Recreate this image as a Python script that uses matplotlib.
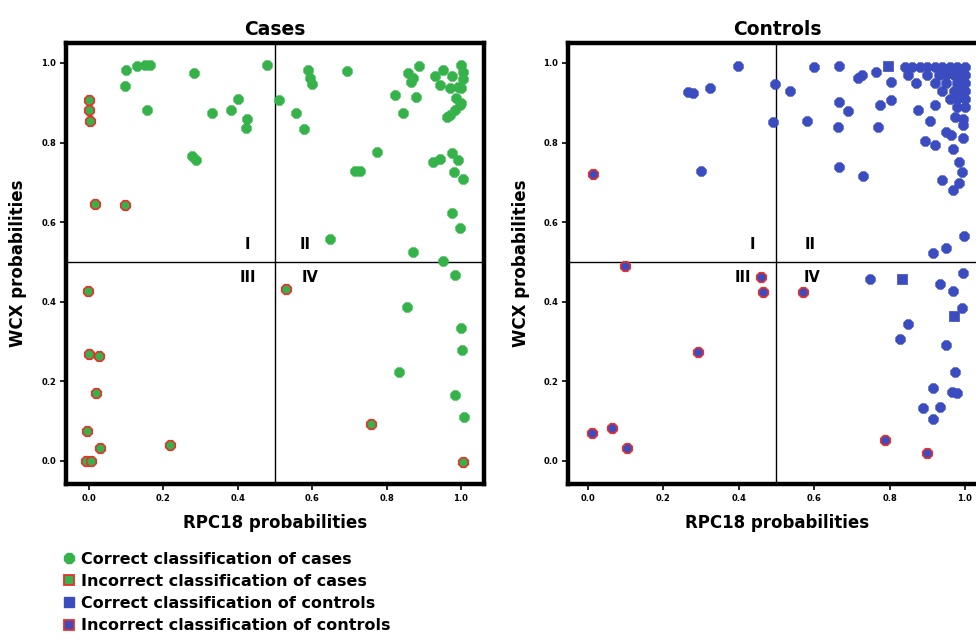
import matplotlib
matplotlib.use("Agg")
import matplotlib.pyplot as plt
from matplotlib.lines import Line2D

plt.rcParams['font.family'] = ['DejaVu Sans']
plt.rcParams['font.weight'] = 'bold'

# ---- data ----
# Cases panel: correct (green) and incorrect (green with red edge)
cases_ok_x = [0.099, 0.13, 0.15, 0.165, 0.098, 0.282, 0.478, 0.156, 0.331, 0.383, 0.40, 0.426, 0.422,
              0.276, 0.287, 0.51, 0.588, 0.594, 0.599, 0.693, 0.556, 0.579, 0.822, 0.845, 0.878, 0.857,
              0.887, 0.867, 0.872, 0.93, 0.952, 1.0, 1.006, 0.975, 1.006, 0.944, 0.97, 0.993, 1.0, 0.988,
              0.997, 0.984, 0.97, 0.962, 1.0, 0.773, 0.716, 0.728, 0.926, 0.944, 0.975, 0.993, 0.982,
              1.006, 0.977, 0.997, 0.649, 0.872, 0.952, 0.985, 0.856, 1.0, 1.003, 0.833, 0.984, 1.008]
cases_ok_y = [0.981, 0.993, 0.996, 0.996, 0.942, 0.975, 0.994, 0.881, 0.874, 0.882, 0.909, 0.859, 0.836,
              0.767, 0.756, 0.907, 0.981, 0.962, 0.948, 0.98, 0.874, 0.833, 0.92, 0.875, 0.914, 0.974,
              0.993, 0.953, 0.962, 0.966, 0.982, 0.995, 0.978, 0.966, 0.96, 0.945, 0.936, 0.94, 0.936, 0.911,
              0.894, 0.882, 0.869, 0.865, 0.90, 0.777, 0.729, 0.729, 0.752, 0.759, 0.773, 0.756, 0.727,
              0.709, 0.624, 0.585, 0.558, 0.524, 0.503, 0.466, 0.388, 0.335, 0.279, 0.223, 0.166, 0.111]
cases_bad_x = [0.001, 0.0, 0.003, 0.017, 0.098, -0.002, 0.0, 0.028, 0.019, -0.006, 0.03, 0.218,
               -0.008, 0.005, 0.53, 0.758, 1.006]
cases_bad_y = [0.907, 0.882, 0.853, 0.646, 0.642, 0.428, 0.268, 0.263, 0.17, 0.074, 0.032, 0.04,
               0.0, 0.0, 0.432, 0.094, -0.003]

# Controls panel: correct (blue) and incorrect (blue with red edge)
ctrl_ok_x = [0.399, 0.266, 0.279, 0.324, 0.496, 0.492, 0.301, 0.536, 0.60, 0.667, 0.717, 0.726, 0.765,
             0.803, 0.667, 0.69, 0.775, 0.803, 0.582, 0.662, 0.77, 0.667, 0.729,
             0.84, 0.86, 0.88, 0.90, 0.92, 0.94, 0.96, 0.98, 1.0,
             0.85, 0.90, 0.93, 0.95, 0.97, 0.99, 1.0,
             0.87, 0.92, 0.95, 0.98, 1.0, 0.94, 0.97, 0.99, 1.0, 0.96, 0.98, 1.0, 0.98, 1.0,
             0.876, 0.907, 0.92, 0.894, 0.92, 0.951, 0.964, 0.967, 0.996, 0.996, 0.996, 0.973,
             0.984, 0.991, 0.984, 0.967, 0.94, 0.998, 0.95, 0.916,
             0.748, 0.996, 0.935, 0.967, 0.991, 0.85, 0.828, 0.95, 0.973, 0.916, 0.965, 0.98,
             0.888, 0.935, 0.916]
ctrl_ok_y = [0.991, 0.928, 0.924, 0.936, 0.946, 0.851, 0.729, 0.93, 0.989, 0.992, 0.962, 0.97, 0.978,
             0.953, 0.901, 0.879, 0.894, 0.907, 0.855, 0.84, 0.84, 0.739, 0.717,
             0.99, 0.99, 0.99, 0.99, 0.99, 0.99, 0.99, 0.99, 0.99,
             0.97, 0.97, 0.97, 0.97, 0.97, 0.97, 0.97,
             0.95, 0.95, 0.95, 0.95, 0.95, 0.93, 0.93, 0.93, 0.93, 0.91, 0.91, 0.91, 0.89, 0.89,
             0.882, 0.854, 0.894, 0.804, 0.794, 0.827, 0.819, 0.784, 0.811, 0.86, 0.845, 0.865,
             0.752, 0.727, 0.698, 0.681, 0.706, 0.565, 0.534, 0.523,
             0.457, 0.472, 0.444, 0.428, 0.384, 0.345, 0.306, 0.291, 0.223, 0.183, 0.173, 0.17,
             0.132, 0.136, 0.106]
ctrl_sq_x = [0.795, 0.834, 0.97]
ctrl_sq_y = [0.992, 0.457, 0.364]
ctrl_bad_x = [0.012, 0.098, 0.458, 0.465, 0.291, 0.01, 0.063, 0.104, 0.571, 0.789, 0.90]
ctrl_bad_y = [0.722, 0.49, 0.463, 0.424, 0.273, 0.07, 0.084, 0.033, 0.424, 0.053, 0.019]

ticks = [0.0, 0.2, 0.4, 0.6, 0.8, 1.0]
tick_labels = ['0.0', '0.2', '0.4', '0.6', '0.8', '1.0']

GREEN = '#35b34a'
BLUE = '#3a4cc0'
RED = '#e8302c'
MS = 55


def setup_axes(ax, title, xlim, quad_pos):
    ax.set_xlim(*xlim)
    ax.set_ylim(-0.058, 1.05)
    for s in ax.spines.values():
        s.set_linewidth(3.2)
    ax.axvline(0.5, color='black', lw=1.0, zorder=1)
    ax.axhline(0.5, color='black', lw=1.0, zorder=1)
    ax.set_xticks(ticks)
    ax.set_xticklabels(tick_labels)
    ax.set_yticks(ticks)
    ax.set_yticklabels(tick_labels)
    ax.tick_params(labelsize=6, length=4, width=1.2, direction='out', pad=3)
    for lab in ax.get_xticklabels() + ax.get_yticklabels():
        lab.set_fontweight('bold')
    ax.set_xlabel('RPC18 probabilities', fontsize=12, fontweight='bold', labelpad=8)
    ax.set_ylabel('WCX probabilities', fontsize=12, fontweight='bold', labelpad=10)
    ax.set_title(title, fontsize=13.5, fontweight='bold', pad=6)
    for txt, (qx, qy) in zip(['I', 'II', 'III', 'IV'], quad_pos):
        ax.text(qx, qy, txt, fontsize=10.5, fontweight='bold', ha='center', va='center')


fig = plt.figure(figsize=(9.76, 6.41), dpi=100)
ax1 = fig.add_axes([0.0676, 0.2449, 0.4283, 0.688])
ax2 = fig.add_axes([0.582, 0.2449, 0.4283, 0.688])

setup_axes(ax1, 'Cases', (-0.062, 1.062),
           [(0.427, 0.543), (0.58, 0.543), (0.427, 0.462), (0.594, 0.462)])
setup_axes(ax2, 'Controls', (-0.053, 1.056),
           [(0.435, 0.543), (0.589, 0.543), (0.41, 0.462), (0.594, 0.462)])

ax1.scatter(cases_ok_x, cases_ok_y, s=MS, marker='8', color=GREEN, edgecolor=GREEN, lw=0.5, zorder=3)
ax1.scatter(cases_bad_x, cases_bad_y, s=MS, marker='8', color=GREEN, edgecolor=RED, lw=1.2, zorder=4)

ax2.scatter(ctrl_ok_x, ctrl_ok_y, s=MS, marker='8', color=BLUE, edgecolor=BLUE, lw=0.5, zorder=3)
ax2.scatter(ctrl_sq_x, ctrl_sq_y, s=MS - 10, marker='s', color=BLUE, edgecolor=BLUE, lw=0.5, zorder=3)
ax2.scatter(ctrl_bad_x, ctrl_bad_y, s=MS, marker='8', color=BLUE, edgecolor=RED, lw=1.2, zorder=4)

handles = [
    Line2D([], [], ls='none', marker='8', ms=8, color=GREEN, mec=GREEN),
    Line2D([], [], ls='none', marker='s', ms=7, color=GREEN, mec=RED, mew=1.3),
    Line2D([], [], ls='none', marker='s', ms=7, color=BLUE, mec=BLUE),
    Line2D([], [], ls='none', marker='s', ms=7, color=BLUE, mec=RED, mew=1.3),
]
labels = ['Correct classification of cases', 'Incorrect classification of cases',
          'Correct classification of controls', 'Incorrect classification of controls']
fig.legend(handles, labels, loc='upper left', bbox_to_anchor=(0.054, 0.152), frameon=False,
           prop={'size': 11.5, 'weight': 'bold'}, handletextpad=0.3, labelspacing=0.45,
           borderpad=0, handlelength=1.0)

fig.savefig('out.png', dpi=100)
